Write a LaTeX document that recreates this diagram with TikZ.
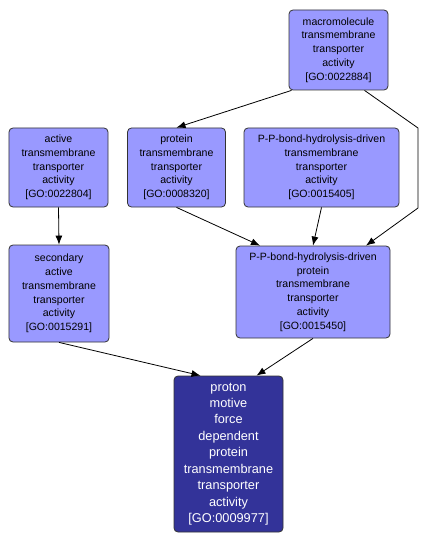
\documentclass[tikz,border=0pt]{standalone}
\usepackage{fontspec}
\setmainfont{Liberation Sans}
\usetikzlibrary{arrows.meta}
\begin{document}
\begin{tikzpicture}[x=1bp,y=-1bp,
  goterm/.style={draw=black!80, line width=0.8bp, rounded corners=4bp, fill=lightgo,
    align=center, inner sep=0pt, font=\fontsize{10.6}{13.8}\selectfont, text=black},
  goterm dark/.style={goterm, fill=darkgo, text=white, font=\fontsize{12.8}{16.5}\selectfont},
  arr/.style={draw=black, line width=0.8bp, -{Latex[length=9bp,width=7bp]}}]
\definecolor{lightgo}{HTML}{9999FF}
\definecolor{darkgo}{HTML}{333399}
\useasboundingbox[fill=white] (0,0) rectangle (429,546);
\node[goterm, minimum width=99bp, minimum height=80bp] (A) at (338.5,50)
  {macromolecule\\transmembrane\\transporter\\activity\\{[GO:0022884]}};
\node[goterm, minimum width=99bp, minimum height=79bp] (B) at (58.5,167.5)
  {active\\transmembrane\\transporter\\activity\\{[GO:0022804]}};
\node[goterm, minimum width=98bp, minimum height=79bp] (C) at (176.5,167.5)
  {protein\\transmembrane\\transporter\\activity\\{[GO:0008320]}};
\node[goterm, minimum width=155bp, minimum height=79bp] (D) at (321.5,167.5)
  {P-P-bond-hydrolysis-driven\\transmembrane\\transporter\\activity\\{[GO:0015405]}};
\node[goterm, minimum width=100bp, minimum height=97bp] (E) at (59,293.5)
  {secondary\\active\\transmembrane\\transporter\\activity\\{[GO:0015291]}};
\node[goterm, minimum width=154bp, minimum height=92bp] (F) at (313,292)
  {P-P-bond-hydrolysis-driven\\protein\\transmembrane\\transporter\\activity\\{[GO:0015450]}};
\node[goterm dark, minimum width=109bp, minimum height=156bp] (G) at (228.5,454)
  {proton\\motive\\force\\dependent\\protein\\transmembrane\\transporter\\activity\\{[GO:0009977]}};
\draw[arr] ([xshift=-47bp]A.south) -- (C.north);
\draw[arr] ([xshift=26bp]A.south) -- (418,128) -- (418,208) -- ([xshift=53bp]F.north);
\draw[arr] (C.south) -- ([xshift=-53bp]F.north);
\draw[arr] (D.south) -- (F.north);
\draw[arr] (B.south) -- (E.north);
\draw[arr] (E.south) -- ([xshift=-28bp]G.north);
\draw[arr] (F.south) -- ([xshift=28bp]G.north);
\end{tikzpicture}
\end{document}
